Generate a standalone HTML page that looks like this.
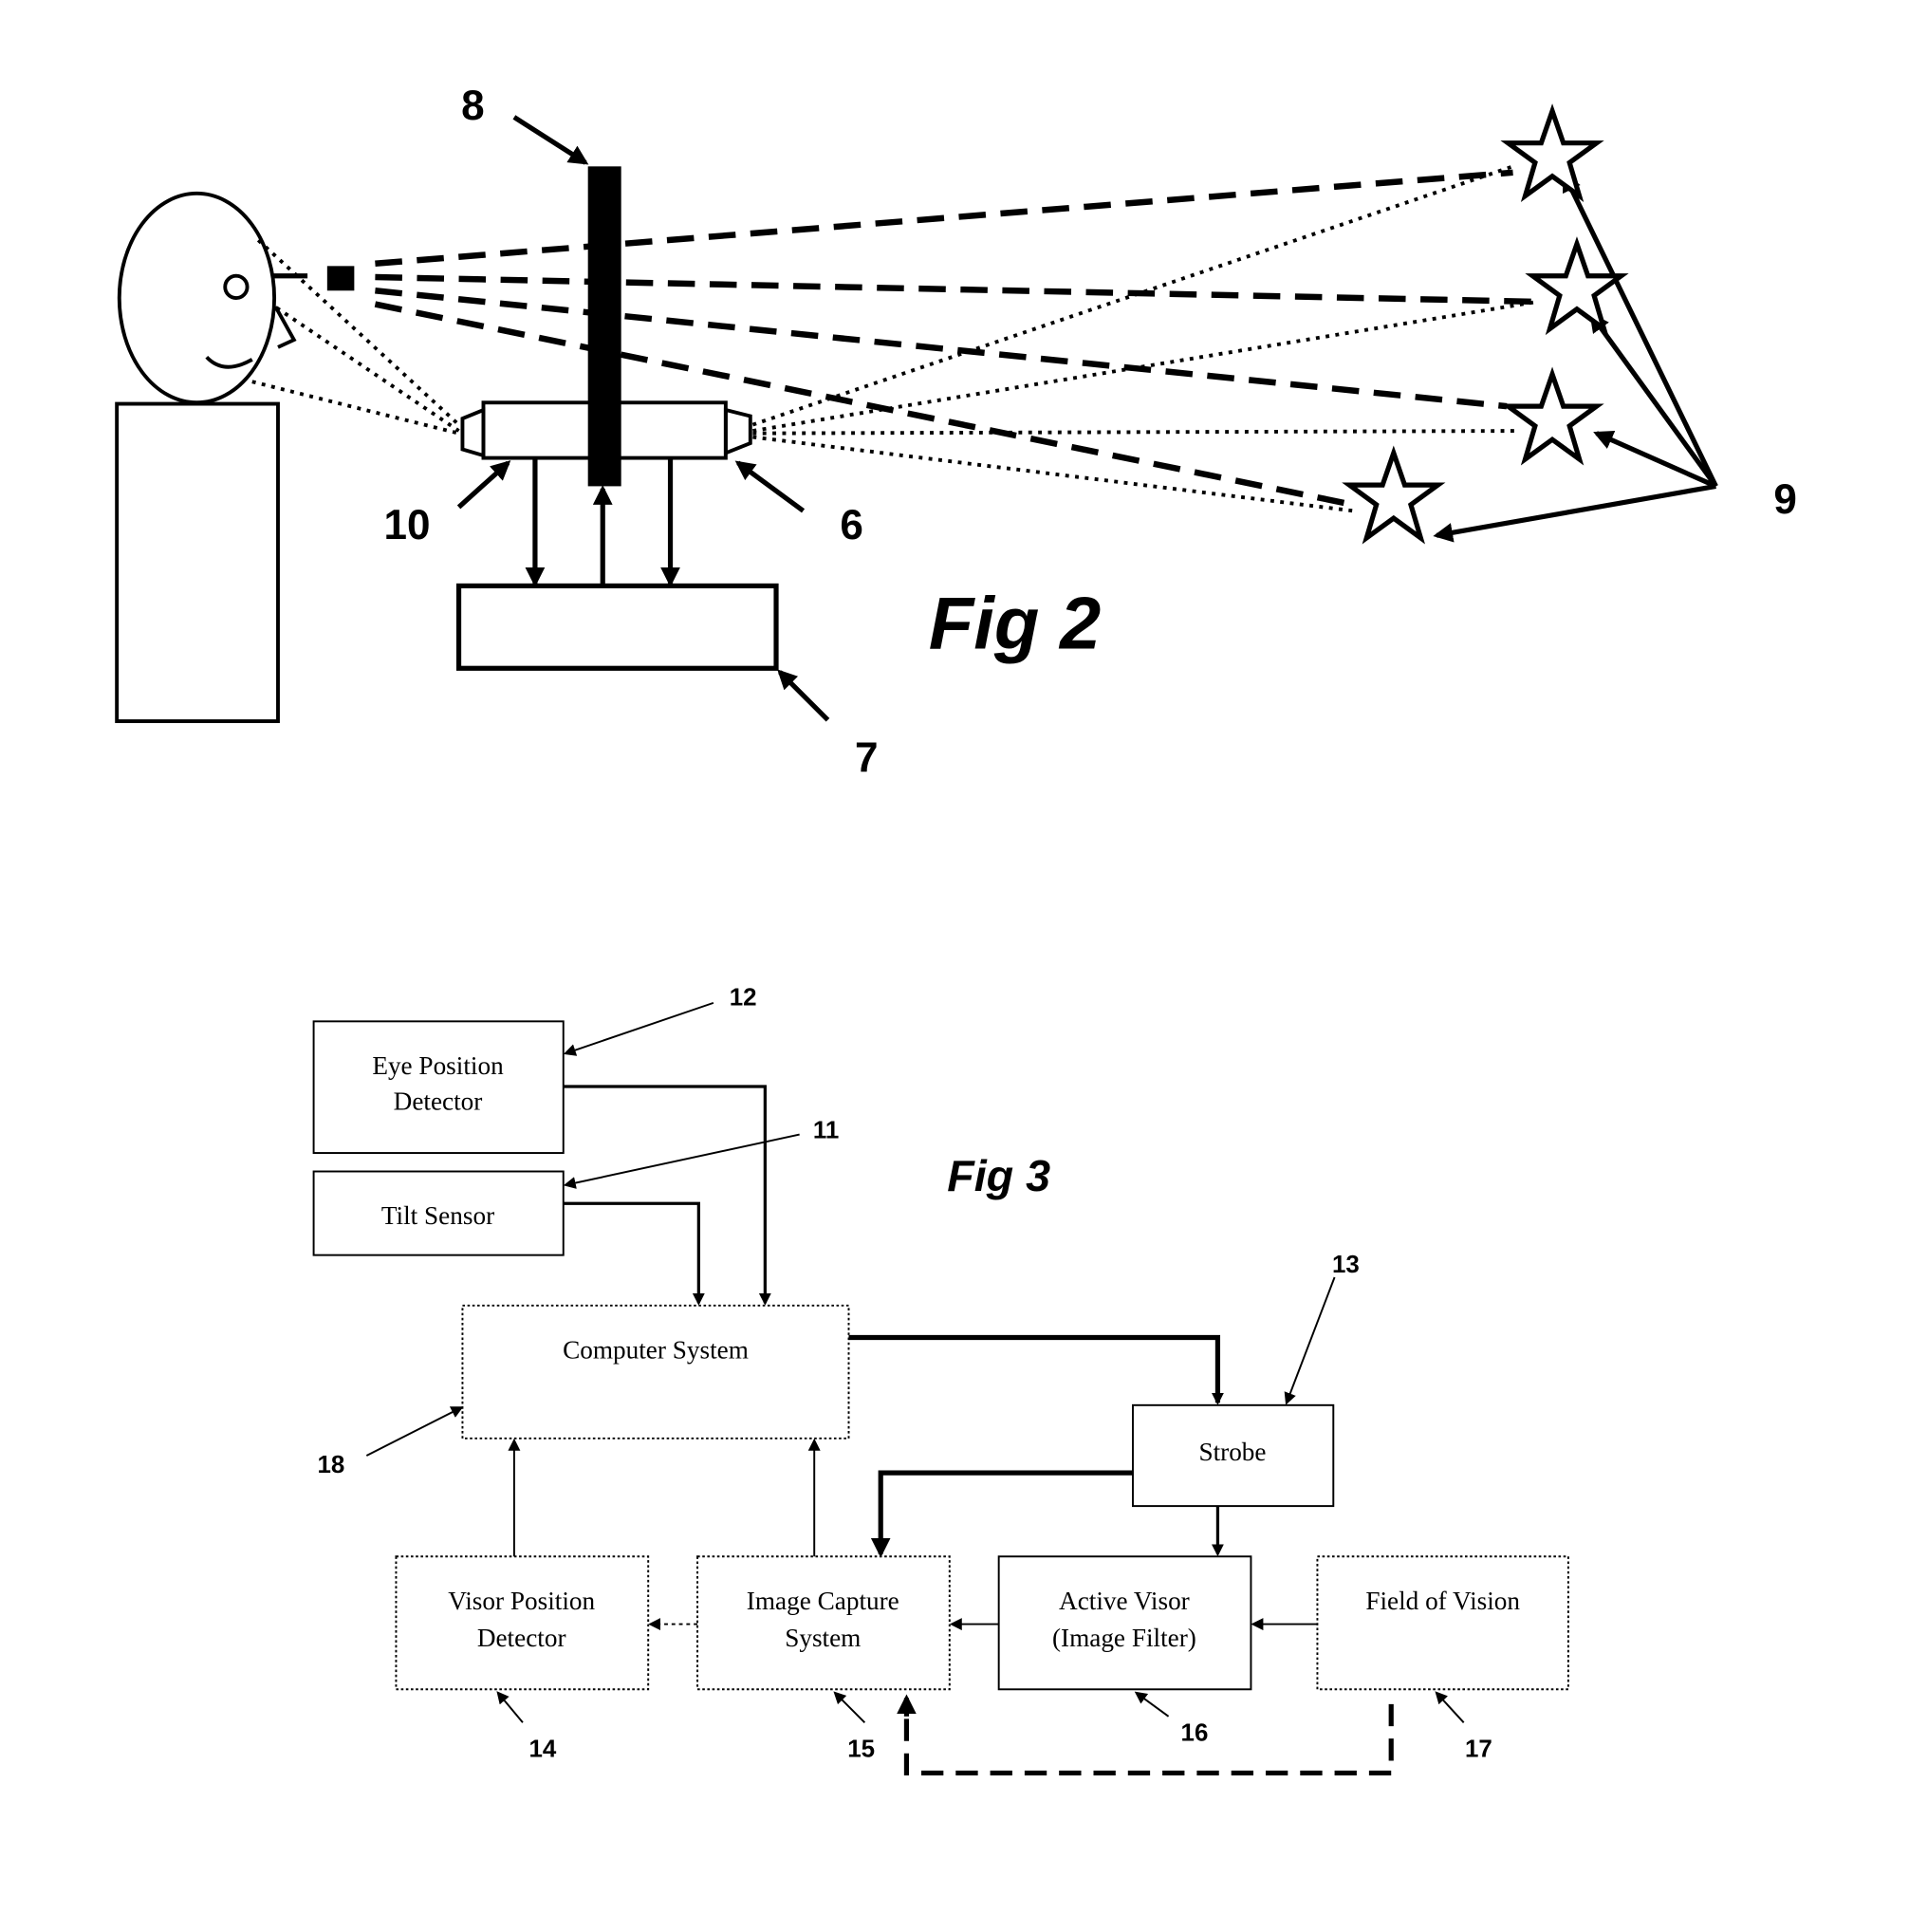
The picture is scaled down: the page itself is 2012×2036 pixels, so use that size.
<!DOCTYPE html>
<html><head><meta charset="utf-8"><style>
html,body{margin:0;padding:0;background:#fff;}
svg{display:block;}
.lbl{font-family:"Liberation Sans",sans-serif;font-weight:bold;fill:#000;}
.st{font-family:"Liberation Serif",serif;font-size:21px;fill:#000;text-anchor:middle;}
</style></head><body>
<svg width="2012" height="2036" viewBox="0 0 1552 1570" xmlns="http://www.w3.org/2000/svg">
<defs>
<marker id="a" markerWidth="10" markerHeight="10" refX="8" refY="5" orient="auto" markerUnits="userSpaceOnUse"><path d="M0,0 L10,5 L0,10 z" fill="#000"/></marker>
<marker id="b" markerWidth="16" markerHeight="16" refX="13" refY="8" orient="auto" markerUnits="userSpaceOnUse"><path d="M0,0 L16,8 L0,16 z" fill="#000"/></marker>
</defs>
<rect width="1552" height="1570" fill="#fff"/>
<!-- Fig 2 -->
<g fill="none" stroke="#000">
<ellipse cx="160" cy="242" rx="63" ry="85" stroke-width="3"/>
<circle cx="192" cy="233" r="9" stroke-width="3"/>
<path d="M168,290 Q182,305 205,292" stroke-width="3"/>
<path d="M224,249 L239,276 L226,282" stroke-width="3"/>
<line x1="222" y1="224" x2="250" y2="224" stroke-width="4"/>
<rect x="95" y="328" width="131" height="258" stroke-width="3"/>
<rect x="393" y="327" width="197" height="45" stroke-width="3"/>
<path d="M393,333 L376,340 L376,365 L393,370 z" stroke-width="3"/>
<path d="M590,333 L610,338 L610,360 L590,368 z" stroke-width="3"/>
<rect x="373" y="476" width="258" height="67" stroke-width="4"/>
<g stroke-width="5" stroke-dasharray="22,12">
<line x1="305" y1="214" x2="1230" y2="140"/>
<line x1="305" y1="225" x2="1250" y2="245"/>
<line x1="305" y1="236" x2="1225" y2="330"/>
<line x1="305" y1="247" x2="1100" y2="410"/>
</g>
<g stroke-width="3" stroke-dasharray="3,5">
<line x1="210" y1="195" x2="373" y2="345"/>
<line x1="225" y1="250" x2="373" y2="350"/>
<line x1="205" y1="310" x2="373" y2="352"/>
<line x1="612" y1="345" x2="1230" y2="135"/>
<line x1="612" y1="350" x2="1250" y2="245"/>
<line x1="612" y1="352" x2="1235" y2="350"/>
<line x1="612" y1="355" x2="1100" y2="415"/>
</g>
<g stroke-width="4">
<line x1="435" y1="372" x2="435" y2="474" marker-end="url(#b)"/>
<line x1="490" y1="476" x2="490" y2="397" marker-end="url(#b)"/>
<line x1="545" y1="372" x2="545" y2="474" marker-end="url(#b)"/>
<line x1="418" y1="95" x2="476" y2="132" marker-end="url(#b)"/>
<line x1="373" y1="412" x2="413" y2="376" marker-end="url(#b)"/>
<line x1="653" y1="415" x2="600" y2="376" marker-end="url(#b)"/>
<line x1="673" y1="585" x2="634" y2="546" marker-end="url(#b)"/>
<line x1="1395" y1="395" x2="1272" y2="142" marker-end="url(#b)"/>
<line x1="1395" y1="395" x2="1294" y2="256" marker-end="url(#b)"/>
<line x1="1395" y1="395" x2="1298" y2="352" marker-end="url(#b)"/>
<line x1="1395" y1="395" x2="1168" y2="435" marker-end="url(#b)"/>
</g>
</g>
<rect x="266" y="216" width="22" height="20" fill="#000"/>
<rect x="478" y="135" width="27" height="260" fill="#000"/>
<g fill="#fff" stroke="#000" stroke-width="4">
<path id="s" d="M0,-38 L9,-12 L36,-12 L14,4 L22,31 L0,15 L-22,31 L-14,4 L-36,-12 L-9,-12 z" transform="translate(1262,128)"/>
<use href="#s" transform="translate(20,108)"/>
<use href="#s" transform="translate(0,214)"/>
<use href="#s" transform="translate(-129,278)"/>
</g>
<text class="lbl" x="375" y="97" font-size="34">8</text>
<text class="lbl" x="312" y="438" font-size="34">10</text>
<text class="lbl" x="683" y="438" font-size="34">6</text>
<text class="lbl" x="695" y="627" font-size="34">7</text>
<text class="lbl" x="1442" y="417" font-size="34">9</text>
<text class="lbl" x="755" y="527" font-size="60" font-style="italic">Fig 2</text>
<!-- Fig 3 -->
<text class="lbl" x="770" y="968" font-size="36" font-style="italic">Fig 3</text>
<g fill="none" stroke="#000" stroke-width="1.5">
<rect x="255" y="830" width="203" height="107"/>
<rect x="255" y="952" width="203" height="68"/>
<rect x="376" y="1061" width="314" height="108" stroke-dasharray="2,2"/>
<rect x="921" y="1142" width="163" height="82"/>
<rect x="322" y="1265" width="205" height="108" stroke-dasharray="2,2"/>
<rect x="567" y="1265" width="205" height="108" stroke-dasharray="2,2"/>
<rect x="812" y="1265" width="205" height="108"/>
<rect x="1071" y="1265" width="204" height="108" stroke-dasharray="2,2"/>
<g stroke-width="2.5">
<polyline points="458,883 622,883 622,1059" marker-end="url(#a)"/>
<polyline points="458,978 568,978 568,1059" marker-end="url(#a)"/>
<line x1="990" y1="1224" x2="990" y2="1263" marker-end="url(#a)"/>
</g>
<g stroke-width="4">
<polyline points="690,1087 990,1087 990,1140" marker-end="url(#a)"/>
<polyline points="921,1197 716,1197 716,1263" marker-end="url(#b)"/>
</g>
<g stroke-width="1.5">
<line x1="418" y1="1265" x2="418" y2="1171" marker-end="url(#a)"/>
<line x1="662" y1="1265" x2="662" y2="1171" marker-end="url(#a)"/>
<line x1="567" y1="1320" x2="529" y2="1320" marker-end="url(#a)" stroke-dasharray="3,3"/>
<line x1="812" y1="1320" x2="774" y2="1320" marker-end="url(#a)"/>
<line x1="1071" y1="1320" x2="1019" y2="1320" marker-end="url(#a)"/>
<line x1="580" y1="815" x2="460" y2="856" marker-end="url(#a)"/>
<line x1="650" y1="922" x2="460" y2="963" marker-end="url(#a)"/>
<line x1="1085" y1="1038" x2="1046" y2="1140" marker-end="url(#a)"/>
<line x1="298" y1="1183" x2="375" y2="1144" marker-end="url(#a)"/>
<line x1="425" y1="1400" x2="405" y2="1376" marker-end="url(#a)"/>
<line x1="703" y1="1400" x2="679" y2="1376" marker-end="url(#a)"/>
<line x1="950" y1="1395" x2="924" y2="1376" marker-end="url(#a)"/>
<line x1="1190" y1="1400" x2="1168" y2="1376" marker-end="url(#a)"/>
</g>
<polyline points="1131,1385 1131,1441 737,1441 737,1392" stroke-width="4" stroke-dasharray="18,10"/>
<line x1="737" y1="1395" x2="737" y2="1380" stroke-width="4" marker-end="url(#b)"/>
</g>
<text class="st" x="356" y="873">Eye Position</text>
<text class="st" x="356" y="902">Detector</text>
<text class="st" x="356" y="995">Tilt Sensor</text>
<text class="st" x="533" y="1104">Computer System</text>
<text class="st" x="1002" y="1187">Strobe</text>
<text class="st" x="424" y="1308">Visor Position</text>
<text class="st" x="424" y="1338">Detector</text>
<text class="st" x="669" y="1308">Image Capture</text>
<text class="st" x="669" y="1338">System</text>
<text class="st" x="914" y="1308">Active Visor</text>
<text class="st" x="914" y="1338">(Image Filter)</text>
<text class="st" x="1173" y="1308">Field of Vision</text>
<g class="lbl" font-size="20">
<text x="593" y="817">12</text>
<text x="661" y="925">11</text>
<text x="1083" y="1034">13</text>
<text x="258" y="1197">18</text>
<text x="430" y="1428">14</text>
<text x="689" y="1428">15</text>
<text x="960" y="1415">16</text>
<text x="1191" y="1428">17</text>
</g>
</svg>
</body></html>
